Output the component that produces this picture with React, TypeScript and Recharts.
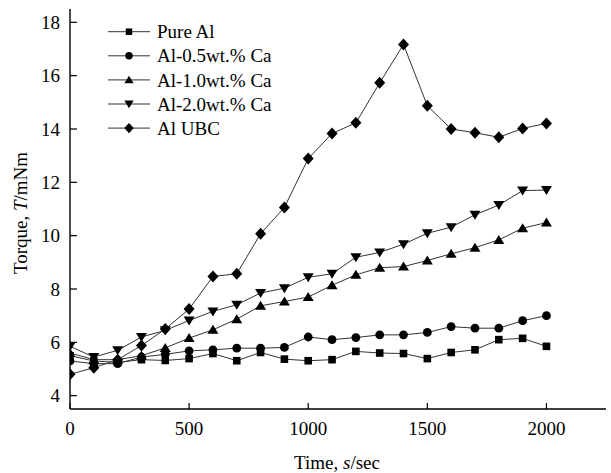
import React from "react"
import { LineChart, Line, XAxis, YAxis, Legend, Label } from "recharts"

const times = [0, 100, 200, 300, 400, 500, 600, 700, 800, 900, 1000, 1100, 1200, 1300, 1400, 1500, 1600, 1700, 1800, 1900, 2000]

const pureAl = [5.5, 5.3, 5.25, 5.35, 5.32, 5.39, 5.58, 5.31, 5.62, 5.37, 5.31, 5.35, 5.66, 5.6, 5.58, 5.39, 5.62, 5.72, 6.1, 6.15, 5.85]
const al05Ca = [5.3, 5.2, 5.2, 5.45, 5.55, 5.68, 5.72, 5.78, 5.78, 5.81, 6.2, 6.1, 6.18, 6.28, 6.28, 6.37, 6.59, 6.53, 6.53, 6.81, 7.0]
const al10Ca = [5.6, 5.35, 5.35, 5.5, 5.79, 6.16, 6.47, 6.87, 7.37, 7.53, 7.7, 8.14, 8.53, 8.8, 8.84, 9.07, 9.32, 9.55, 9.84, 10.28, 10.49]
const al20Ca = [5.85, 5.45, 5.7, 6.2, 6.45, 6.82, 7.16, 7.41, 7.85, 8.03, 8.44, 8.57, 9.19, 9.37, 9.68, 10.09, 10.32, 10.78, 11.15, 11.69, 11.71]
const alUBC = [4.8, 5.05, 5.35, 5.88, 6.5, 7.25, 8.47, 8.57, 10.07, 11.06, 12.89, 13.83, 14.23, 15.73, 17.17, 14.87, 14.0, 13.86, 13.69, 14.02, 14.21]

const xTicks = [0, 500, 1000, 1500, 2000]
const yTicks = [4, 6, 8, 10, 12, 14, 16, 18]

const series = [
  { key: "pure", name: "Pure Al", shape: "square", values: pureAl },
  { key: "ca05", name: "Al-0.5wt.% Ca", shape: "circle", values: al05Ca },
  { key: "ca10", name: "Al-1.0wt.% Ca", shape: "up", values: al10Ca },
  { key: "ca20", name: "Al-2.0wt.% Ca", shape: "down", values: al20Ca },
  { key: "ubc", name: "Al UBC", shape: "diamond", values: alUBC },
]

const data = times.map((t, i) => {
  const row: Record<string, number> = { t }
  series.forEach((s) => {
    row[s.key] = s.values[i]
  })
  return row
})

const FONT = '"Liberation Serif", "Times New Roman", serif'
const INK = "#000"

function Marker({ shape, cx, cy, s = 1 }: { shape: string; cx: number; cy: number; s?: number }) {
  if (cx == null || cy == null) return null
  switch (shape) {
    case "square":
      return <rect x={cx - 3.8 * s} y={cy - 3.8 * s} width={7.6 * s} height={7.6 * s} fill={INK} />
    case "circle":
      return <circle cx={cx} cy={cy} r={4.4 * s} fill={INK} />
    case "up":
      return <polygon points={`${cx},${cy - 5 * s} ${cx + 5.5 * s},${cy + 4 * s} ${cx - 5.5 * s},${cy + 4 * s}`} fill={INK} />
    case "down":
      return <polygon points={`${cx},${cy + 5 * s} ${cx + 5.5 * s},${cy - 4 * s} ${cx - 5.5 * s},${cy - 4 * s}`} fill={INK} />
    default:
      return <polygon points={`${cx},${cy - 6 * s} ${cx + 5.5 * s},${cy} ${cx},${cy + 6 * s} ${cx - 5.5 * s},${cy}`} fill={INK} />
  }
}

const XTick = (props: any) => {
  const { x, y, payload } = props
  return (
    <g>
      <line x1={x} x2={x} y1={y - 12} y2={y - 18} stroke={INK} strokeWidth={1.2} />
      <text x={x} y={y} dy="0.75em" textAnchor="middle" fontFamily={FONT} fontSize={19} fill={INK}>
        {payload.value}
      </text>
    </g>
  )
}

const YTick = (props: any) => {
  const { x, y, payload } = props
  return (
    <g>
      <line x1={x + 10} x2={x + 17} y1={y} y2={y} stroke={INK} strokeWidth={1.2} />
      <text x={x} y={y} dy="0.35em" textAnchor="end" fontFamily={FONT} fontSize={19} fill={INK}>
        {payload.value}
      </text>
    </g>
  )
}

const LegendBox = () => (
  <svg width={240} height={125}>
    {series.map((s, i) => {
      const cy = 13.7 + i * 24.1
      return (
        <g key={s.key}>
          <line x1={8} x2={50} y1={cy} y2={cy} stroke="#333" strokeWidth={1} />
          <Marker shape={s.shape} cx={29} cy={cy} s={0.85} />
          <text x={57} y={cy} dy="0.35em" fontFamily={FONT} fontSize={19} fill={INK}>
            {s.name}
          </text>
        </g>
      )
    })}
  </svg>
)

export default function App() {
  return (
    <div style={{ position: "absolute", left: 0, top: 0, background: "#fff" }}>
      <LineChart width={611} height={473} data={data} margin={{ top: 9, right: 5, bottom: 24, left: 10 }}>
        <XAxis
          dataKey="t"
          type="number"
          domain={[0, 2250]}
          ticks={xTicks}
          allowDataOverflow
          height={40}
          tickSize={0}
          tickMargin={12}
          tickLine={false}
          axisLine={{ stroke: INK, strokeWidth: 1.4 }}
          tick={XTick}
        >
          <Label
            content={() => (
              <text x={337} y={469} textAnchor="middle" fontFamily={FONT} fontSize={19} fill={INK}>
                Time, <tspan fontStyle="italic">s</tspan>/sec
              </text>
            )}
          />
        </XAxis>
        <XAxis
          xAxisId="top"
          orientation="top"
          type="number"
          dataKey="t"
          domain={[0, 2250]}
          height={0}
          tick={false}
          tickLine={false}
          axisLine={{ stroke: INK, strokeWidth: 1.4 }}
        />
        <YAxis
          type="number"
          domain={[3.5, 18.5]}
          ticks={yTicks}
          allowDataOverflow
          width={60}
          tickSize={0}
          tickMargin={10}
          tickLine={false}
          axisLine={{ stroke: INK, strokeWidth: 1.4 }}
          tick={YTick}
        >
          <Label
            content={() => (
              <text
                x={27}
                y={213}
                transform="rotate(-90 27 213)"
                textAnchor="middle"
                fontFamily={FONT}
                fontSize={19}
                fill={INK}
              >
                Torque, <tspan fontStyle="italic">T</tspan>/mNm
              </text>
            )}
          />
        </YAxis>
        <YAxis
          yAxisId="right"
          orientation="right"
          type="number"
          domain={[3.5, 18.5]}
          width={0}
          tick={false}
          tickLine={false}
          axisLine={{ stroke: INK, strokeWidth: 1.4 }}
        />
        <Legend
          layout="vertical"
          align="center"
          verticalAlign="middle"
          content={LegendBox}
          wrapperStyle={{ left: 100, top: 18, width: 240, height: 125 }}
        />
        {series.map((s) => (
          <Line
            key={s.key}
            dataKey={s.key}
            name={s.name}
            stroke="#333"
            strokeWidth={1}
            isAnimationActive={false}
            dot={(p: any) => <Marker key={`${s.key}-${p.index}`} shape={s.shape} cx={p.cx} cy={p.cy} />}
            activeDot={false}
          />
        ))}
      </LineChart>
    </div>
  )
}
